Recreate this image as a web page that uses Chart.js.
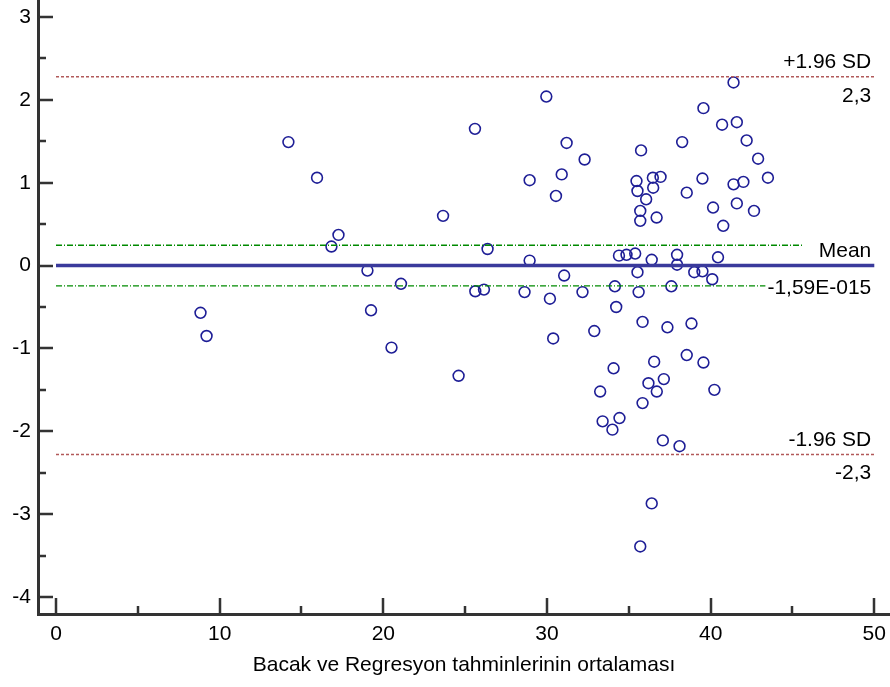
<!DOCTYPE html>
<html>
<head>
<meta charset="utf-8">
<title>Bland-Altman</title>
<script src="https://cdn.jsdelivr.net/npm/chart.js@4/dist/chart.umd.min.js"></script>
<style>
    html, body { margin: 0; padding: 0; background: #fff; }
    #wrap { width: 890px; height: 687px; }
</style>
</head>
<body>
<div id="wrap"><canvas id="chart" width="890" height="687"></canvas></div>
<script>
// Means of the two estimates (x) and their differences (y)
const meanValues = [
    8.83, 9.2, 14.2, 15.95, 16.83, 17.26, 19.03, 19.25, 20.5, 21.08,
    23.65, 24.6, 25.6, 25.62, 26.15, 26.37, 28.63, 28.94, 28.94, 29.96,
    30.18, 30.38, 30.55, 30.9, 31.05, 31.2, 32.17, 32.3, 32.89, 33.25,
    33.4, 34.0, 34.07, 34.15, 34.23, 34.43, 34.4, 34.86, 35.39, 35.47,
    35.53, 35.53, 35.6, 35.7, 35.7, 35.75, 35.84, 35.84, 35.7, 36.06,
    36.2, 36.4, 36.4, 36.47, 36.49, 36.55, 36.7, 36.71, 36.94, 37.08,
    37.14, 37.36, 37.6, 37.95, 37.95, 38.1, 38.26, 38.54, 38.54, 38.83,
    39.0, 39.5, 39.5, 39.56, 39.56, 40.1, 40.15, 40.23, 40.45, 40.7,
    40.77, 41.4, 41.4, 41.6, 41.6, 42.0, 42.2, 42.65, 42.9, 43.5
];
const diffValues = [
    -0.57, -0.85, 1.49, 1.06, 0.23, 0.37, -0.06, -0.54, -0.99, -0.22,
    0.60, -1.33, 1.65, -0.31, -0.29, 0.20, -0.32, 1.03, 0.06, 2.04,
    -0.40, -0.88, 0.84, 1.10, -0.12, 1.48, -0.32, 1.28, -0.79, -1.52,
    -1.88, -1.98, -1.24, -0.25, -0.50, -1.84, 0.12, 0.13, 0.145, 1.02,
    0.90, -0.08, -0.32, 0.66, 0.54, 1.39, -0.68, -1.66, -3.39, 0.80,
    -1.42, 0.07, -2.87, 1.06, 0.94, -1.16, 0.58, -1.52, 1.07, -2.11,
    -1.37, -0.745, -0.25, 0.13, 0.01, -2.18, 1.49, 0.88, -1.08, -0.70,
    -0.08, -0.07, 1.05, 1.90, -1.17, -0.165, 0.70, -1.50, 0.10, 1.70,
    0.48, 2.21, 0.98, 1.73, 0.75, 1.01, 1.51, 0.66, 1.29, 1.06
];

// Reference lines
const meanDiff = 0;
const upperLimit = 2.28;
const lowerLimit = -2.28;
const meanCiUpper = 0.245;
const meanCiLower = -0.245;
const lineStart = 0;
const lineEnd = 50;
const ciLineEnd = 45.6;

// Tick values
const xTickValues = [0, 10, 20, 30, 40, 50];
const xMinorValues = [5, 15, 25, 35, 45];
const yTickValues = [-4, -3, -2, -1, 0, 1, 2, 3];
const yMinorValues = [-3.5, -2.5, -1.5, -0.5, 0.5, 1.5, 2.5];

const xTitle = 'Bacak ve Regresyon tahminlerinin ortalaması';
const labelTexts = {
    upper: ['+1.96 SD', '2,3'],
    mean: ['Mean', '-1,59E-015'],
    lower: ['-1.96 SD', '-2,3']
};

const FONT = "'Liberation Sans', Arial, sans-serif";
const AXIS_COLOR = '#333333';

function hLine(y, x0, x1) {
    return [{ x: x0, y: y }, { x: x1, y: y }];
}

// no extra room for the edge labels: plot reaches the canvas top and right
function noPadding(s) {
    s.paddingTop = 0;
    s.paddingBottom = 0;
    s.paddingLeft = 0;
    s.paddingRight = 0;
}

// Inward tick marks, like the original plot
const tickPlugin = {
    id: 'inwardTicks',
    afterDatasetsDraw(chart) {
        const ctx = chart.ctx;
        const xs = chart.scales.x, ys = chart.scales.y;
        const left = chart.chartArea.left, bottom = chart.chartArea.bottom;
        ctx.save();
        ctx.strokeStyle = AXIS_COLOR;
        ctx.lineWidth = 2.5;
        ctx.beginPath();
        yTickValues.forEach(v => {
            const py = Math.round(ys.getPixelForValue(v));
            ctx.moveTo(left, py); ctx.lineTo(left + 15, py);
        });
        yMinorValues.forEach(v => {
            const py = Math.round(ys.getPixelForValue(v));
            ctx.moveTo(left, py); ctx.lineTo(left + 8, py);
        });
        xTickValues.forEach(v => {
            const px = Math.round(xs.getPixelForValue(v));
            ctx.moveTo(px, bottom); ctx.lineTo(px, bottom - 16);
        });
        xMinorValues.forEach(v => {
            const px = Math.round(xs.getPixelForValue(v));
            ctx.moveTo(px, bottom); ctx.lineTo(px, bottom - 8);
        });
        ctx.stroke();
        ctx.restore();
    }
};

// Text next to the reference lines
const labelPlugin = {
    id: 'lineLabels',
    afterDraw(chart) {
        const ctx = chart.ctx;
        const xs = chart.scales.x, ys = chart.scales.y;
        const rx = xs.getPixelForValue(lineEnd) - 3;
        ctx.save();
        ctx.font = '21px ' + FONT;
        ctx.textAlign = 'right';
        ctx.textBaseline = 'alphabetic';
        const put = (texts, value, below) => {
            const py = ys.getPixelForValue(value);
            ctx.fillStyle = '#000';
            ctx.fillText(texts[0], rx, py - 8.5);
            const w = ctx.measureText(texts[1]).width;
            ctx.fillStyle = '#fff';
            ctx.fillRect(rx - w - 2, py + below - 16, w + 3, 19);
            ctx.fillStyle = '#000';
            ctx.fillText(texts[1], rx, py + below);
        };
        put(labelTexts.upper, upperLimit, 25.5);
        put(labelTexts.mean, meanDiff, 28.5);
        put(labelTexts.lower, lowerLimit, 25);
        ctx.restore();
    }
};

const points = meanValues.map((m, i) => ({ x: m, y: diffValues[i] }));

new Chart(document.getElementById('chart'), {
    type: 'scatter',
    data: {
        datasets: [
            {
                data: hLine(upperLimit, lineStart, lineEnd),
                showLine: true, pointRadius: 0,
                borderColor: '#b25a5a', borderWidth: 1.5, borderDash: [3, 2]
            },
            {
                data: hLine(lowerLimit, lineStart, lineEnd),
                showLine: true, pointRadius: 0,
                borderColor: '#b25a5a', borderWidth: 1.5, borderDash: [3, 2]
            },
            {
                data: hLine(meanCiUpper, lineStart, ciLineEnd),
                showLine: true, pointRadius: 0,
                borderColor: '#008a00', borderWidth: 1.3, borderDash: [6, 2, 1, 2]
            },
            {
                data: hLine(meanCiLower, lineStart, ciLineEnd),
                showLine: true, pointRadius: 0,
                borderColor: '#008a00', borderWidth: 1.3, borderDash: [6, 2, 1, 2]
            },
            {
                data: hLine(meanDiff, lineStart, lineEnd),
                showLine: true, pointRadius: 0,
                borderColor: '#3a3a9c', borderWidth: 3.5
            },
            {
                data: points,
                pointStyle: 'circle',
                pointRadius: 5.4,
                pointBorderWidth: 1.6,
                pointBorderColor: '#1e1e96',
                pointBackgroundColor: 'rgba(255,255,255,0)'
            }
        ]
    },
    options: {
        responsive: false,
        animation: false,
        layout: { padding: 0, autoPadding: false },
        plugins: {
            legend: { display: false },
            tooltip: { enabled: false }
        },
        scales: {
            x: {
                type: 'linear',
                min: -1.1,
                max: 50.96,
                afterFit: s => { s.height = 73; noPadding(s); },
                afterBuildTicks: s => { s.ticks = xTickValues.map(v => ({ value: v })); },
                grid: { display: false, drawTicks: false },
                border: { display: true, color: AXIS_COLOR, width: 3 },
                ticks: {
                    padding: 8,
                    color: '#000',
                    font: { family: FONT, size: 21 },
                    maxRotation: 0,
                    autoSkip: false,
                    callback: v => String(v)
                },
                title: {
                    display: true,
                    text: xTitle,
                    color: '#000',
                    font: { family: FONT, size: 21 },
                    padding: { top: 0, bottom: 9 }
                }
            },
            y: {
                type: 'linear',
                min: -4.205,
                max: 3.205,
                afterFit: s => { s.width = 38; noPadding(s); },
                afterBuildTicks: s => { s.ticks = yTickValues.map(v => ({ value: v })); },
                grid: { display: false, drawTicks: false },
                border: { display: true, color: AXIS_COLOR, width: 3 },
                ticks: {
                    padding: 7,
                    color: '#000',
                    font: { family: FONT, size: 21 },
                    autoSkip: false,
                    callback: v => String(v)
                }
            }
        }
    },
    plugins: [tickPlugin, labelPlugin]
});
</script>
</body>
</html>
